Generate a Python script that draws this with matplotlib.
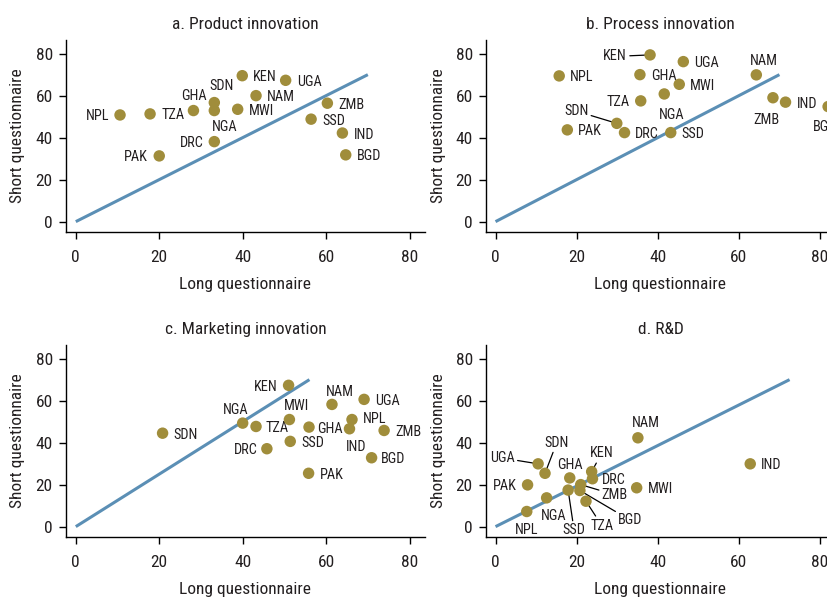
import matplotlib
matplotlib.use("Agg")
import matplotlib.pyplot as plt
from matplotlib import font_manager

# the reference uses a narrow grotesque; take a condensed face if one is installed,
# otherwise shrink Liberation Sans so the text widths come out about the same
installed = {f.name for f in font_manager.fontManager.ttflist}
if "Liberation Sans Narrow" in installed:
    FAMILY, BIG, SMALL = "Liberation Sans Narrow", 12.8, 10.5
elif "Roboto Condensed" in installed:
    FAMILY, BIG, SMALL = "Roboto Condensed", 12.5, 10.3
else:
    FAMILY, BIG, SMALL = "Liberation Sans", 11.5, 9.6
plt.rcParams["font.family"] = [FAMILY, "DejaVu Sans"]

DOT = "#A08D3B"
LINE = "#5B8FB5"
TXT = "#231F20"

titles = ["a. Product innovation", "b. Process innovation",
          "c. Marketing innovation", "d. R&D"]

a_names = ["NPL", "TZA", "PAK", "GHA", "SDN", "NGA", "DRC", "MWI", "KEN", "NAM",
           "UGA", "ZMB", "SSD", "IND", "BGD"]
a_long = [10.6, 17.8, 20.0, 28.2, 33.2, 33.2, 33.2, 38.8, 39.9, 43.2, 50.3, 60.3, 56.4, 63.9, 64.7]
a_short = [50.8, 51.3, 31.3, 52.9, 56.7, 52.9, 38.1, 53.5, 69.5, 60.0, 67.3, 56.4, 48.8, 42.2, 31.8]
a_fit_x = [0, 70]
a_fit_y = [0, 70]

b_names = ["KEN", "UGA", "NPL", "GHA", "MWI", "NGA", "TZA", "SDN", "PAK", "DRC",
           "SSD", "NAM", "ZMB", "IND", "BGD"]
b_long = [38.1, 46.3, 15.7, 35.6, 45.3, 41.6, 35.8, 29.9, 17.7, 31.8, 43.2, 64.3, 68.4, 71.5, 82.0]
b_short = [79.4, 76.2, 69.4, 70.0, 65.4, 60.8, 57.5, 46.8, 43.7, 42.4, 42.4, 69.9, 59.0, 56.9, 54.8]
b_fit_x = [0, 70]
b_fit_y = [0, 70]

c_names = ["SDN", "NGA", "TZA", "DRC", "KEN", "MWI", "SSD", "GHA", "PAK", "NAM",
           "NPL", "IND", "UGA", "ZMB", "BGD"]
c_long = [20.8, 40.0, 43.2, 45.8, 51.0, 51.2, 51.4, 55.9, 55.8, 61.4, 66.2, 65.6, 69.1, 73.9, 70.9]
c_short = [44.5, 49.3, 47.7, 37.1, 67.3, 51.0, 40.6, 47.4, 25.4, 58.2, 51.0, 46.6, 60.6, 45.8, 32.8]
c_fit_x = [0, 56]
c_fit_y = [0, 70]

d_names = ["NAM", "IND", "MWI", "UGA", "SDN", "PAK", "NPL", "NGA", "GHA", "SSD",
           "KEN", "DRC", "ZMB", "BGD", "TZA"]
d_long = [35.1, 62.8, 34.8, 10.5, 12.2, 7.9, 7.7, 12.6, 18.3, 17.9, 23.7, 23.9, 21.0, 20.8, 22.3]
d_short = [42.3, 29.9, 18.5, 29.9, 25.4, 19.9, 7.2, 13.7, 23.2, 17.4, 26.2, 22.8, 20.0, 17.2, 12.1]
d_fit_x = [0, 72.5]
d_fit_y = [0, 70]

# label placement (pixel offsets from the dot); default is to the right
R = (11, 0, "left", "center_baseline", False)
L = (-11, 0, "right", "center_baseline", False)
a_place = {
    "NPL": L, "PAK": L, "DRC": L,
    "GHA": (0, 10.7, "center", "baseline", False),
    "SDN": (7, 12.7, "center", "baseline", False),
    "NGA": (10, -9.3, "center", "top", False),
}
b_place = {
    "KEN": (-23, 0, "right", "center_baseline", True),
    "SDN": (-28.4, 13.8, "right", "center_baseline", True),
    "TZA": L,
    "DRC": (10, 0, "left", "center_baseline", False),
    "NGA": (7.4, -13.7, "center", "top", False),
    "NAM": (8, 10, "center", "baseline", False),
    "ZMB": (-7, -15.6, "center", "top", False),
    "BGD": (-3, -13.3, "center", "top", False),
}
c_place = {
    "NGA": (-7, 8.7, "center", "baseline", False),
    "TZA": (9, 0, "left", "center_baseline", False),
    "DRC": (-9.5, 0, "right", "center_baseline", False),
    "KEN": L,
    "MWI": (7.4, 9.7, "center", "baseline", False),
    "GHA": (8, 0, "left", "center_baseline", False),
    "NAM": (8, 8, "center", "baseline", False),
    "NPL": (11, 1.7, "left", "center_baseline", False),
    "IND": (7, -11.7, "center", "top", False),
    "BGD": (9.5, 0, "left", "center_baseline", False),
}
d_place = {
    "NAM": (8, 10.6, "center", "baseline", False),
    "UGA": (-23.3, 7.3, "right", "center_baseline", True),
    "SDN": (11.8, 26.7, "center", "baseline", True),
    "PAK": L,
    "NPL": (0, -11.7, "center", "top", False),
    "NGA": (7, -11, "center", "top", False),
    "GHA": (0, 9, "center", "baseline", False),
    "SSD": (6, -33.4, "center", "top", True),
    "KEN": (10, 14.3, "center", "baseline", True),
    "DRC": (9, 0, "left", "center_baseline", False),
    "ZMB": (21, -8.7, "left", "center_baseline", True),
    "BGD": (38.3, -28.3, "left", "center_baseline", True),
    "TZA": (16, -17.6, "center", "top", True),
}

panels = [
    (a_names, a_long, a_short, a_fit_x, a_fit_y, a_place),
    (b_names, b_long, b_short, b_fit_x, b_fit_y, b_place),
    (c_names, c_long, c_short, c_fit_x, c_fit_y, c_place),
    (d_names, d_long, d_short, d_fit_x, d_fit_y, d_place),
]

W, H = 828, 598
# axes boxes in pixels: left, top, right, bottom (right column runs off the page)
boxes = [(66, 40, 425, 231.7), (486, 40, 835, 231.7),
         (66, 345, 425, 536.7), (486, 345, 835, 536.7)]

fig = plt.figure(figsize=(W / 100, H / 100), dpi=100)

for (names, xs, ys, fx, fy, place), title, (l, t, r, b) in zip(panels, titles, boxes):
    ax = fig.add_axes([l / W, 1 - b / H, (r - l) / W, (b - t) / H])
    ax.plot(fx, fy, color=LINE, lw=2.2, zorder=2, solid_capstyle="butt")
    ax.scatter(xs, ys, s=68, color=DOT, edgecolors="none", zorder=4, clip_on=False)
    for name, x, y in zip(names, xs, ys):
        dx, dy, ha, va, leader = place.get(name, R)
        kw = {}
        if leader:
            kw["arrowprops"] = dict(arrowstyle="-", color="black", lw=0.9,
                                    shrinkA=0, shrinkB=3)
        ax.annotate(name, (x, y), xytext=(dx, dy), textcoords="offset pixels",
                    ha=ha, va=va, fontsize=SMALL, color=TXT, zorder=3,
                    annotation_clip=False, **kw)

    ax.set_xlim(-2.35, 83.7)
    ax.set_ylim(-4.8, 86.5)
    ax.set_xticks([0, 20, 40, 60, 80])
    ax.set_yticks([0, 20, 40, 60, 80])
    for side in ("top", "right"):
        ax.spines[side].set_visible(False)
    for side in ("left", "bottom"):
        ax.spines[side].set_linewidth(1.0)
    ax.tick_params(axis="both", length=4.8, width=1.0, labelsize=BIG, labelcolor=TXT)
    ax.tick_params(axis="x", pad=8.6)
    ax.tick_params(axis="y", pad=4.7)

    ax.set_title(title, fontsize=BIG, color=TXT, pad=7.7)
    ax.set_xlabel("Long questionnaire", fontsize=BIG, color=TXT)
    ax.set_ylabel("Short questionnaire", fontsize=BIG, color=TXT)
    ax.xaxis.set_label_coords(0.5, -45 / (b - t))
    ax.yaxis.set_label_coords(-40.5 / (r - l), 0.5)

fig.savefig("out.png", dpi=100)
